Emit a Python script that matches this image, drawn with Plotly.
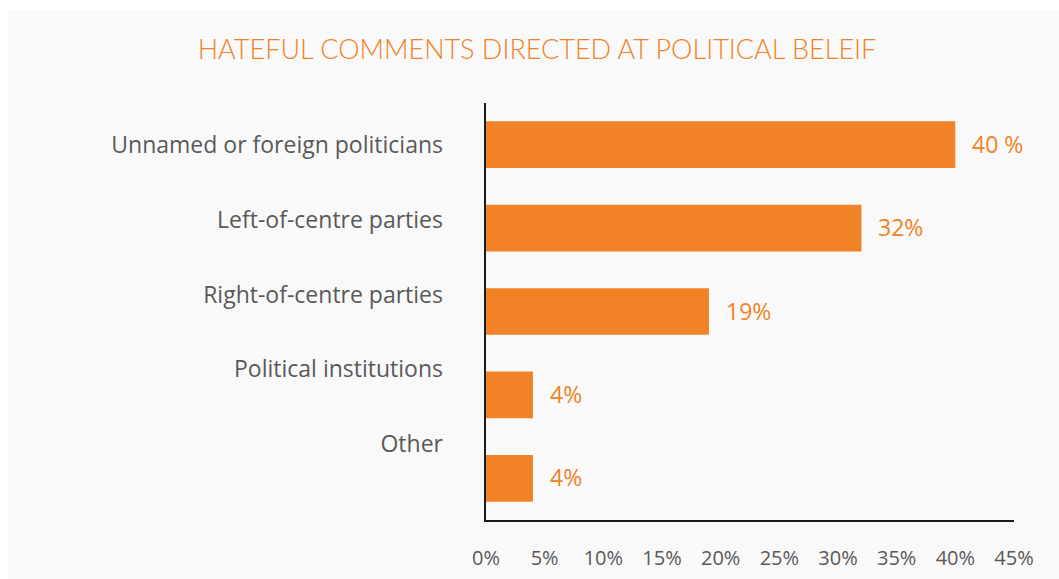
import plotly.graph_objects as go

# Chart data
categories = [
    "Unnamed or foreign politicians",
    "Left-of-centre parties",
    "Right-of-centre parties",
    "Political institutions",
    "Other",
]
shares = [40, 32, 19, 4, 4]
share_labels = ["40 %", "32%", "19%", "4%", "4%"]
x_ticks = [0, 5, 10, 15, 20, 25, 30, 35, 40, 45]
x_tick_labels = [f"{v}%" for v in x_ticks]

ORANGE = "#F28226"
GREY_TEXT = "#595959"
W, H = 1059, 579

# plot area in pixels
left, right, top, bottom = 486, 1014, 103, 520
plot_h = bottom - top

# category label band (slightly tighter than the bars)
lab_top, lab_bot = 107.6, 481.4
dom2 = [(bottom - lab_bot) / plot_h, (bottom - lab_top) / plot_h]

n = len(categories)
cat_range = [n - 0.5, -0.5]

fig = go.Figure()

fig.add_trace(go.Bar(
    x=shares,
    y=categories,
    orientation="h",
    marker=dict(color=ORANGE, line=dict(width=0)),
    hoverinfo="skip",
))

# invisible trace carrying the category labels axis
fig.add_trace(go.Scatter(
    x=[0] * n,
    y=categories,
    yaxis="y2",
    mode="markers",
    marker=dict(opacity=0),
    hoverinfo="skip",
    showlegend=False,
))

for cat, val, lab in zip(categories, shares, share_labels):
    fig.add_annotation(
        x=val, y=cat, xref="x", yref="y",
        text=lab, showarrow=False,
        xanchor="left", yanchor="middle", xshift=15, yshift=1,
        font=dict(family="Open Sans", size=23, color=ORANGE),
    )

fig.update_layout(
    width=W, height=H,
    margin=dict(l=left, r=W - right, t=top, b=H - bottom, autoexpand=False),
    paper_bgcolor="white",
    plot_bgcolor="rgba(0,0,0,0)",
    showlegend=False,
    bargap=0.44,
    title=dict(
        text="HATEFUL COMMENTS DIRECTED AT POLITICAL BELEIF",
        x=537 / W, xanchor="center",
        y=1 - 50 / H, yanchor="middle",
        font=dict(family="Lato", size=27, color=ORANGE, weight=300),
    ),
    xaxis=dict(
        range=[0, 45],
        tickvals=x_ticks,
        ticktext=x_tick_labels,
        showgrid=False,
        zeroline=False,
        showline=True,
        linecolor="#1a1a1a",
        linewidth=1.6,
        ticks="",
        automargin=False,
        ticklabelstandoff=19,
        tickfont=dict(family="Open Sans", size=20, color=GREY_TEXT),
        fixedrange=True,
    ),
    yaxis=dict(
        categoryorder="array",
        categoryarray=categories,
        range=cat_range,
        autorange=False,
        showticklabels=False,
        showgrid=False,
        zeroline=False,
        showline=True,
        linecolor="#1a1a1a",
        linewidth=1.6,
        ticks="",
        automargin=False,
    ),
    yaxis2=dict(
        domain=dom2,
        anchor="free",
        position=0,
        categoryorder="array",
        categoryarray=categories,
        range=cat_range,
        autorange=False,
        showgrid=False,
        zeroline=False,
        showline=False,
        ticks="",
        automargin=False,
        ticklabelstandoff=43,
        tickfont=dict(family="Open Sans", size=23, color=GREY_TEXT),
    ),
    shapes=[dict(
        type="rect", xref="paper", yref="paper", layer="below",
        x0=(8 - left) / (right - left), x1=(W - left) / (right - left),
        y0=(bottom - H) / plot_h, y1=(bottom - 10) / plot_h,
        fillcolor="#F9F9F9", line=dict(width=0),
    )],
)

fig.write_html("out.html")
